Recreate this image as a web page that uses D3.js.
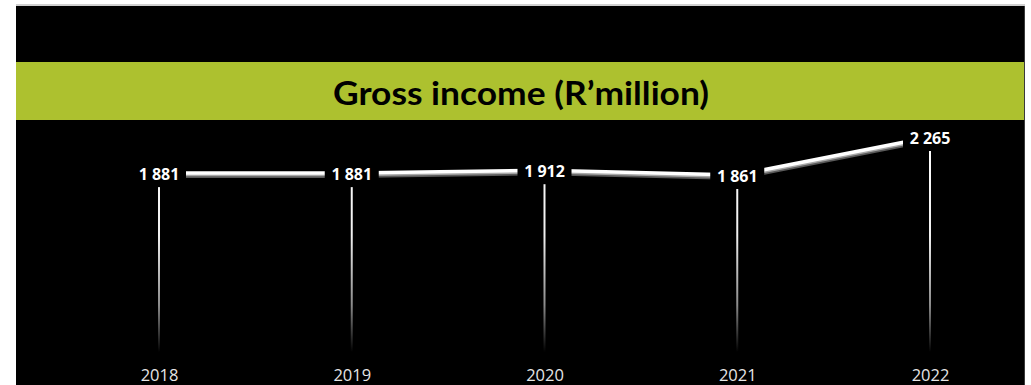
<!DOCTYPE html>
<html>
<head>
<meta charset="utf-8">
<script src="https://cdn.jsdelivr.net/npm/d3@7"></script>
<style>
  html, body { margin: 0; padding: 0; background: #fff; }
  svg { display: block; }
</style>
</head>
<body>
<svg id="chart" width="1031" height="385"></svg>
<script>
// Gross income per year, R'million
const years = ["2018", "2019", "2020", "2021", "2022"];
const income = [1881, 1881, 1912, 1861, 2265];
const valueLabels = ["1 881", "1 881", "1 912", "1 861", "2 265"];
const titleText = "Gross income (R\u2019million)";

const W = 1031, H = 385;
const svg = d3.select("#chart");

// slide frame
svg.append("rect").attr("x", 16).attr("y", 4).attr("width", 1009).attr("height", 2).attr("fill", "#d0d0d0");
svg.append("rect").attr("x", 16).attr("y", 6).attr("width", 1008).attr("height", H - 6).attr("fill", "#000");
svg.append("rect").attr("x", 1024).attr("y", 6).attr("width", 1).attr("height", H - 6).attr("fill", "#3a3a3a");

// title band
svg.append("rect").attr("x", 16).attr("y", 62).attr("width", 1008).attr("height", 58).attr("fill", "#adc12f");
svg.append("text")
  .attr("x", 521).attr("y", 105)
  .attr("text-anchor", "middle")
  .attr("font-family", "Lato, 'Open Sans', sans-serif")
  .attr("font-weight", "bold")
  .attr("font-size", 32)
  .attr("textLength", 376)
  .attr("lengthAdjust", "spacingAndGlyphs")
  .attr("fill", "#000")
  .text(titleText);

// scales
const x = d3.scalePoint().domain(years).range([159, 930]);
const y = d3.scaleLinear().domain([1861, 2265]).range([176, 138]);
const baseY = 352;

const data = years.map((yr, i) => ({ year: yr, value: income[i], label: valueLabels[i] }));

// drop line gradient
const defs = svg.append("defs");
const grad = defs.append("linearGradient")
  .attr("id", "dropFade")
  .attr("gradientUnits", "userSpaceOnUse")
  .attr("x1", 0).attr("y1", 140).attr("x2", 0).attr("y2", baseY);
grad.append("stop").attr("offset", 0).attr("stop-color", "#ffffff");
grad.append("stop").attr("offset", 0.45).attr("stop-color", "#f0f0f0");
grad.append("stop").attr("offset", 0.78).attr("stop-color", "#8a8a8a");
grad.append("stop").attr("offset", 1).attr("stop-color", "#000000");

// drop lines
svg.append("g").selectAll("line").data(data).join("line")
  .attr("x1", d => x(d.year)).attr("x2", d => x(d.year))
  .attr("y1", d => y(d.value)).attr("y2", baseY)
  .attr("stroke", "url(#dropFade)")
  .attr("stroke-width", 2);

// income line with a soft shadow underneath
const line = d3.line().x(d => x(d.year)).y(d => y(d.value));
svg.append("path").datum(data)
  .attr("d", line).attr("transform", "translate(0,2.5)")
  .attr("fill", "none").attr("stroke", "#5a5a5a").attr("stroke-width", 3);
svg.append("path").datum(data)
  .attr("d", line).attr("transform", "translate(0,1)")
  .attr("fill", "none").attr("stroke", "#a8a8a8").attr("stroke-width", 2.5);
svg.append("path").datum(data)
  .attr("d", line).attr("transform", "translate(0,-1)")
  .attr("fill", "none").attr("stroke", "#ffffff").attr("stroke-width", 3.5);

// value labels on black boxes
const lbl = svg.append("g").selectAll("g").data(data).join("g")
  .attr("transform", d => `translate(${x(d.year)},${y(d.value)})`);
lbl.append("rect")
  .attr("x", -27).attr("y", -13).attr("width", 54).attr("height", 26)
  .attr("fill", "#000");
lbl.append("text")
  .attr("text-anchor", "middle")
  .attr("dy", "0.36em")
  .attr("font-family", "'Open Sans', sans-serif")
  .attr("font-weight", "bold")
  .attr("font-size", 16)
  .attr("fill", "#fff")
  .text(d => d.label);

// category axis
const axis = svg.append("g")
  .attr("transform", "translate(0,369)")
  .call(d3.axisBottom(x).tickSize(0).tickPadding(0));
axis.select(".domain").remove();
axis.selectAll("text")
  .attr("font-family", "'Open Sans', sans-serif")
  .attr("font-size", 16.5)
  .attr("fill", "#e6e6e6");
</script>
</body>
</html>
